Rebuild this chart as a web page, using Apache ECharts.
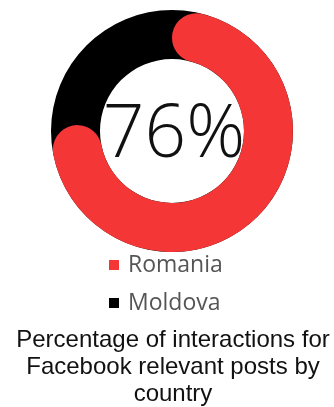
<!DOCTYPE html>
<html><head><meta charset="utf-8">
<script src="https://cdn.jsdelivr.net/npm/echarts@6/dist/echarts.min.js"></script>
<style>html,body{margin:0;padding:0;background:#fff}#c{width:334px;height:407px}</style>
</head><body><div id="c"></div>
<script>
var countries = ['Romania', 'Moldova'];
var shares = [76, 24];
var colors = ['#f43636', '#000000'];
var titleText = 'Percentage of interactions for\nFacebook relevant posts by\ncountry';

var chart = echarts.init(document.getElementById('c'), null, {renderer: 'canvas'});
var center = [172, 131];
var radius = [72, 121];
chart.setOption({
  animation: false,
  title: [
    {text: shares[0] + '%', left: 169, top: 131, textAlign: 'center', textVerticalAlign: 'middle',
     textStyle: {fontFamily: 'Open Sans', fontWeight: 300, fontSize: 73, color: '#111'}},
    {text: titleText, left: 168, top: 322, textAlign: 'center',
     textStyle: {fontFamily: 'Liberation Sans', fontWeight: 'normal', fontSize: 24, lineHeight: 27, color: '#111', align: 'center'}}
  ],
  legend: {
    orient: 'vertical', left: 104, top: 247, itemWidth: 10, itemHeight: 10, itemGap: 12, icon: 'rect',
    textStyle: {fontFamily: 'Open Sans', fontSize: 23, lineHeight: 26, color: '#555', padding: [0,0,0,4]},
    data: countries.map(function (n, i) { return {name: n, itemStyle: {color: colors[i]}}; })
  },
  series: [
    {type: 'pie', silent: true, center: center, radius: radius, label: {show: false}, legendHoverLink: false,
     data: [{name: countries[1], value: shares[0] + shares[1], itemStyle: {color: colors[1]}}]},
    {type: 'pie', silent: true, center: center, radius: radius, label: {show: false}, startAngle: 90, clockwise: true,
     data: [
       {name: countries[0], value: shares[0], itemStyle: {color: colors[0], borderRadius: 25}},
       {name: countries[1], value: shares[1], itemStyle: {color: 'rgba(0,0,0,0)'}}
     ]}
  ]
});
</script></body></html>
